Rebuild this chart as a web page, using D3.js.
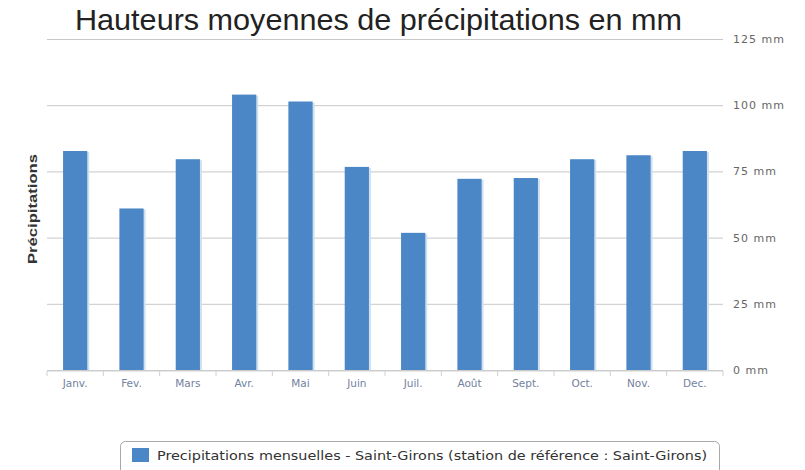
<!DOCTYPE html>
<html>
<head>
<meta charset="utf-8">
<script src="https://cdn.jsdelivr.net/npm/d3@7"></script>
<style>
html,body{margin:0;padding:0;background:#fff;}
svg{display:block;}
</style>
</head>
<body>
<svg id="chart" width="805" height="470"></svg>
<script>
const months = ["Janv.", "Fev.", "Mars", "Avr.", "Mai", "Juin", "Juil.", "Août", "Sept.", "Oct.", "Nov.", "Dec."];
const precipitation = [82.7, 61, 79.6, 104, 101.4, 76.7, 51.8, 72.2, 72.5, 79.6, 81.1, 82.7];
const yTicks = [0, 25, 50, 75, 100, 125];
const titleText = "Hauteurs moyennes de précipitations en mm";
const yLabel = "Précipitations";
const legendText = "Precipitations mensuelles - Saint-Girons (station de référence : Saint-Girons)";

const svg = d3.select("#chart");
const mLeft = 47, mRight = 723, mTop = 39, mBottom = 370;

const x = d3.scaleBand().domain(months).range([mLeft, mRight]).paddingInner(0.57).paddingOuter(0.285);
const y = d3.scaleLinear().domain([0, 125]).range([mBottom, mTop]);

// gridlines + right axis labels
svg.append("g")
  .attr("transform", `translate(${mRight},0)`)
  .call(d3.axisRight(y).tickValues(yTicks).tickSize(-(mRight - mLeft)).tickFormat(d => d + " mm").tickPadding(10))
  .call(g => g.select(".domain").remove())
  .call(g => g.selectAll(".tick line").attr("stroke", "#c8c8c8").attr("stroke-width", 1))
  .call(g => g.selectAll(".tick text").attr("fill", "#666").attr("font-family", "'DejaVu Sans', sans-serif")
    .attr("font-size", 11).attr("letter-spacing", 1).attr("x", 10));

// bars shadow
svg.append("g").selectAll("rect").data(months).join("rect")
  .attr("x", d => x(d) + 2)
  .attr("y", (d, i) => y(precipitation[i]) + 1)
  .attr("width", x.bandwidth())
  .attr("height", (d, i) => mBottom - y(precipitation[i]) - 1)
  .attr("fill", "#cfe0f0");

svg.append("g").selectAll("rect").data(months).join("rect")
  .attr("x", d => x(d))
  .attr("y", (d, i) => y(precipitation[i]))
  .attr("width", x.bandwidth())
  .attr("height", (d, i) => mBottom - y(precipitation[i]))
  .attr("fill", "#4b86c6");

// x axis
const xAxisG = svg.append("g").attr("transform", `translate(0,${mBottom + 1})`);
xAxisG.append("line").attr("x1", mLeft).attr("x2", mRight).attr("stroke", "#d0d0d0");
xAxisG.selectAll("line.sep").data(d3.range(months.length + 1)).join("line")
  .attr("class", "sep")
  .attr("x1", i => mLeft + i * x.step()).attr("x2", i => mLeft + i * x.step())
  .attr("y1", 0).attr("y2", 5).attr("stroke", "#d0d0d0");
xAxisG.selectAll("text").data(months).join("text")
  .attr("x", d => x(d) + x.bandwidth() / 2)
  .attr("y", 16)
  .attr("text-anchor", "middle")
  .attr("fill", "#7282a0")
  .attr("font-family", "'DejaVu Sans', sans-serif")
  .attr("font-size", 10.5)
  .text(d => d);

// title
svg.append("text")
  .attr("x", 75).attr("y", 30)
  .attr("font-family", "'Liberation Sans', Arial, sans-serif")
  .attr("font-size", 29.5)
  .attr("fill", "#222")
  .attr("textLength", 607)
  .attr("lengthAdjust", "spacingAndGlyphs")
  .text(titleText);

// y label
svg.append("text")
  .attr("transform", "translate(37,209) rotate(-90)")
  .attr("text-anchor", "middle")
  .attr("font-family", "'Liberation Sans', Arial, sans-serif")
  .attr("font-weight", "bold")
  .attr("font-size", 12)
  .attr("fill", "#333")
  .attr("textLength", 110)
  .attr("lengthAdjust", "spacingAndGlyphs")
  .text(yLabel);

// legend
const lg = svg.append("g");
lg.append("rect").attr("x", 120.5).attr("y", 441.5).attr("width", 599).attr("height", 36).attr("rx", 5)
  .attr("fill", "#fff").attr("stroke", "#a8a8a8");
lg.append("rect").attr("x", 132).attr("y", 448).attr("width", 17).attr("height", 14).attr("fill", "#4b86c6");
lg.append("text").attr("x", 157).attr("y", 460)
  .attr("font-family", "'DejaVu Sans', sans-serif")
  .attr("font-size", 12)
  .attr("fill", "#333")
  .attr("textLength", 550)
  .attr("lengthAdjust", "spacingAndGlyphs")
  .text(legendText);
</script>
</body>
</html>
